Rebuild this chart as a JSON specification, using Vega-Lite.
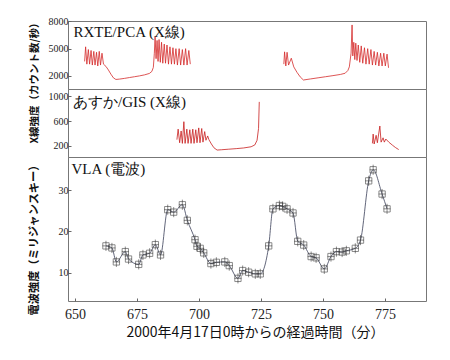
{
  "$schema": "https://vega.github.io/schema/vega-lite/v6.json",
  "padding": {"left": 27, "top": 15, "right": 5, "bottom": 5},
  "background": "white",
  "spacing": 0,
  "bounds": "flush",
  "config": {
    "view": {"stroke": "#777", "strokeWidth": 1},
    "concat": {"spacing": 0},
    "axis": {"labelFont": "Liberation Serif", "labelColor": "#222", "tickColor": "#666", "domain": false, "grid": false, "titleFont": "Noto Sans CJK JP", "titleColor": "#111", "tickSize": -3, "labelPadding": 3, "labelOverlap": false, "labelBound": false, "labelFlush": false, "format": "d"}
  },
  "datasets": {
    "pca": [
      {"t":653.9,"c":3600,"seg":1},{"t":654.3,"c":5200,"seg":1},{"t":654.8,"c":3300,"seg":1},{"t":655.4,"c":4900,"seg":1},{"t":655.9,"c":3300,"seg":1},{"t":656.5,"c":4800,"seg":1},{"t":657.0,"c":3200,"seg":1},{"t":657.6,"c":4700,"seg":1},{"t":658.1,"c":3200,"seg":1},{"t":658.7,"c":4600,"seg":1},{"t":659.2,"c":3100,"seg":1},{"t":659.8,"c":4700,"seg":1},{"t":660.3,"c":3200,"seg":1},{"t":660.9,"c":4500,"seg":1},{"t":661.5,"c":3300,"seg":1},
      {"t":662.5,"c":3050,"seg":1},{"t":663.5,"c":2650,"seg":1},{"t":664.5,"c":2200,"seg":1},{"t":665.5,"c":1800,"seg":1},{"t":666.5,"c":1620,"seg":1},{"t":668.0,"c":1660,"seg":1},{"t":670.0,"c":1740,"seg":1},{"t":672.0,"c":1830,"seg":1},{"t":674.0,"c":1920,"seg":1},{"t":676.0,"c":2010,"seg":1},{"t":678.0,"c":2120,"seg":1},{"t":680.0,"c":2280,"seg":1},{"t":681.0,"c":2500,"seg":1},{"t":681.6,"c":2950,"seg":1},{"t":682.0,"c":4500,"seg":1},
      {"t":682.3,"c":6300,"seg":1},{"t":682.7,"c":3900,"seg":1},{"t":683.1,"c":5900,"seg":1},{"t":683.5,"c":3600,"seg":1},{"t":683.9,"c":6000,"seg":1},{"t":684.4,"c":3500,"seg":1},{"t":684.9,"c":5700,"seg":1},{"t":685.4,"c":3400,"seg":1},{"t":686.0,"c":5500,"seg":1},{"t":686.5,"c":3400,"seg":1},{"t":687.1,"c":5400,"seg":1},{"t":687.7,"c":3300,"seg":1},{"t":688.3,"c":5200,"seg":1},{"t":688.9,"c":3300,"seg":1},{"t":689.5,"c":5100,"seg":1},{"t":690.1,"c":3300,"seg":1},{"t":690.7,"c":5000,"seg":1},{"t":691.3,"c":3200,"seg":1},{"t":692.0,"c":5000,"seg":1},{"t":692.6,"c":3200,"seg":1},{"t":693.3,"c":4900,"seg":1},{"t":693.9,"c":3200,"seg":1},{"t":694.6,"c":5000,"seg":1},{"t":695.2,"c":3200,"seg":1},{"t":695.9,"c":4800,"seg":1},{"t":696.5,"c":3300,"seg":1},
      {"t":734.2,"c":3300,"seg":2},{"t":734.5,"c":4650,"seg":2},{"t":735.0,"c":3100,"seg":2},{"t":735.5,"c":4600,"seg":2},{"t":736.1,"c":3200,"seg":2},{"t":737.2,"c":3950,"seg":2},{"t":738.2,"c":3000,"seg":2},{"t":739.5,"c":2400,"seg":2},{"t":740.8,"c":1900,"seg":2},{"t":742.1,"c":1560,"seg":2},{"t":745.0,"c":1680,"seg":2},{"t":748.0,"c":1800,"seg":2},{"t":751.0,"c":1920,"seg":2},{"t":754.0,"c":2040,"seg":2},{"t":757.0,"c":2170,"seg":2},{"t":758.9,"c":2300,"seg":2},{"t":760.0,"c":2600,"seg":2},{"t":760.6,"c":3000,"seg":2},{"t":761.3,"c":4500,"seg":2},
      {"t":761.7,"c":7600,"seg":2},{"t":762.0,"c":4200,"seg":2},{"t":762.4,"c":5700,"seg":2},{"t":762.8,"c":3800,"seg":2},{"t":763.2,"c":5600,"seg":2},{"t":763.7,"c":3700,"seg":2},{"t":764.2,"c":5400,"seg":2},{"t":764.8,"c":3500,"seg":2},{"t":765.4,"c":5300,"seg":2},{"t":766.0,"c":3400,"seg":2},{"t":766.7,"c":5100,"seg":2},{"t":767.3,"c":3300,"seg":2},{"t":768.0,"c":5000,"seg":2},{"t":768.6,"c":3300,"seg":2},{"t":769.3,"c":4900,"seg":2},{"t":769.9,"c":3200,"seg":2},{"t":770.6,"c":4700,"seg":2},{"t":771.2,"c":3200,"seg":2},{"t":771.9,"c":4600,"seg":2},{"t":772.5,"c":3100,"seg":2},{"t":773.2,"c":4500,"seg":2},{"t":773.8,"c":3100,"seg":2},{"t":774.5,"c":4500,"seg":2},{"t":775.1,"c":3100,"seg":2},{"t":775.8,"c":4400,"seg":2},{"t":776.4,"c":2900,"seg":2}
    ],
    "gis": [
      {"t":691.1,"c":300,"seg":1},{"t":691.6,"c":470,"seg":1},{"t":692.2,"c":250,"seg":1},{"t":692.8,"c":440,"seg":1},{"t":693.3,"c":240,"seg":1},{"t":693.9,"c":590,"seg":1},{"t":694.4,"c":240,"seg":1},{"t":695.1,"c":470,"seg":1},{"t":695.6,"c":240,"seg":1},{"t":696.3,"c":460,"seg":1},{"t":696.8,"c":240,"seg":1},{"t":697.5,"c":470,"seg":1},{"t":698.0,"c":240,"seg":1},{"t":698.7,"c":460,"seg":1},{"t":699.2,"c":250,"seg":1},{"t":699.9,"c":490,"seg":1},{"t":700.4,"c":250,"seg":1},{"t":701.1,"c":480,"seg":1},{"t":701.6,"c":260,"seg":1},{"t":702.3,"c":430,"seg":1},{"t":702.8,"c":290,"seg":1},{"t":703.5,"c":360,"seg":1},{"t":704.0,"c":300,"seg":1},{"t":705.0,"c":230,"seg":1},{"t":706.0,"c":170,"seg":1},{"t":707.3,"c":132,"seg":1},{"t":709.0,"c":137,"seg":1},{"t":712.0,"c":146,"seg":1},{"t":715.0,"c":155,"seg":1},{"t":718.0,"c":166,"seg":1},{"t":721.0,"c":185,"seg":1},{"t":722.5,"c":215,"seg":1},{"t":723.4,"c":290,"seg":1},{"t":724.0,"c":480,"seg":1},{"t":724.3,"c":910,"seg":1},
      {"t":769.9,"c":240,"seg":2},{"t":770.2,"c":390,"seg":2},{"t":770.6,"c":230,"seg":2},{"t":771.4,"c":370,"seg":2},{"t":771.9,"c":250,"seg":2},{"t":772.9,"c":520,"seg":2},{"t":773.4,"c":260,"seg":2},{"t":774.2,"c":330,"seg":2},{"t":774.7,"c":260,"seg":2},{"t":775.3,"c":310,"seg":2},{"t":776.5,"c":260,"seg":2},{"t":778.0,"c":210,"seg":2},{"t":779.3,"c":170,"seg":2},{"t":780.5,"c":140,"seg":2}
    ],
    "vla": [
      {"t":662.5,"f":16.5},{"t":664.9,"f":16.0},{"t":666.7,"f":12.6},{"t":670.3,"f":15.1},{"t":671.6,"f":13.3},{"t":675.7,"f":12.0},{"t":677.4,"f":14.3},{"t":680.1,"f":14.7},{"t":682.4,"f":16.8},{"t":684.5,"f":14.3},{"t":687.4,"f":25.3},{"t":689.8,"f":24.7},{"t":693.3,"f":26.5},{"t":695.3,"f":22.7},{"t":698.4,"f":18.0},{"t":699.2,"f":16.4},{"t":700.5,"f":15.9},{"t":701.9,"f":14.8},{"t":704.8,"f":12.2},{"t":707.0,"f":12.5},{"t":710.4,"f":12.6},{"t":712.2,"f":11.7},{"t":715.7,"f":8.6},{"t":717.6,"f":10.5},{"t":720.0,"f":10.1},{"t":722.7,"f":9.7},{"t":724.7,"f":9.7},{"t":728.1,"f":16.5},{"t":729.8,"f":25.5},{"t":732.4,"f":26.3},{"t":733.7,"f":26.1},{"t":735.5,"f":25.5},{"t":737.9,"f":24.5},{"t":739.8,"f":17.6},{"t":742.2,"f":16.7},{"t":745.2,"f":13.9},{"t":747.2,"f":13.6},{"t":750.5,"f":10.9},{"t":753.2,"f":13.9},{"t":755.4,"f":15.1},{"t":757.7,"f":15.0},{"t":759.4,"f":15.3},{"t":763.0,"f":15.9},{"t":765.1,"f":17.9},{"t":768.4,"f":32.3},{"t":770.2,"f":35.0},{"t":773.8,"f":29.1},{"t":775.8,"f":25.5}
    ]
  },
  "vconcat": [
    {
      "width": 358, "height": 68,
      "layer": [
        {
          "data": {"name": "pca"},
          "mark": {"type": "line", "color": "#d42a2a", "strokeWidth": 0.8},
          "encoding": {
            "x": {"field": "t", "type": "quantitative", "scale": {"domain": [647.2, 791.5], "nice": false}, "axis": null},
            "y": {"field": "c", "type": "quantitative", "scale": {"domain": [573, 8033], "nice": false, "zero": false}, "axis": {"values": [2000, 5000, 8000], "tickCount": 3, "title": null, "labelFontSize": 10, "labelOverlap": false}},
            "detail": {"field": "seg"}
          }
        },
        {
          "data": {"values": [{"t": 649.4, "c": 6830, "label": "RXTE/PCA (X線)"}]},
          "mark": {"type": "text", "font": "Liberation Serif", "fontSize": 15, "align": "left", "baseline": "middle", "color": "#111"},
          "encoding": {
            "x": {"field": "t", "type": "quantitative"},
            "y": {"field": "c", "type": "quantitative"},
            "text": {"field": "label"}
          }
        }
      ]
    },
    {
      "width": 358, "height": 68,
      "layer": [
        {
          "data": {"name": "gis"},
          "mark": {"type": "line", "color": "#c81e1e", "strokeWidth": 0.8},
          "encoding": {
            "x": {"field": "t", "type": "quantitative", "scale": {"domain": [647.2, 791.5], "nice": false}, "axis": null},
            "y": {"field": "c", "type": "quantitative", "scale": {"domain": [20, 1118], "nice": false, "zero": false}, "axis": {"values": [200, 600, 1000], "tickCount": 3, "title": "X線強度（カウント数/秒）", "titleFontSize": 10.5, "titleFontWeight": "bold", "titleX": -29, "titleY": -9, "labelFontSize": 10, "labelOverlap": false}},
            "detail": {"field": "seg"}
          }
        },
        {
          "data": {"values": [{"t": 649.2, "c": 908, "label": "あすか/GIS (X線)"}]},
          "mark": {"type": "text", "font": "Liberation Serif", "fontSize": 15, "align": "left", "baseline": "middle", "color": "#111"},
          "encoding": {
            "x": {"field": "t", "type": "quantitative"},
            "y": {"field": "c", "type": "quantitative"},
            "text": {"field": "label"}
          }
        }
      ]
    },
    {
      "width": 358, "height": 144,
      "layer": [
        {
          "data": {"name": "vla"},
          "mark": {"type": "line", "color": "#3a3f58", "strokeWidth": 0.8, "interpolate": "monotone"},
          "encoding": {
            "x": {"field": "t", "type": "quantitative", "scale": {"domain": [647.2, 791.5], "nice": false}, "axis": {"values": [650, 675, 700, 725, 750, 775], "labelFontSize": 14, "labelPadding": 9, "title": "2000年4月17日0時からの経過時間（分）", "titleFontSize": 14, "titleFontWeight": "normal", "titlePadding": 4, "titleX": 187}},
            "y": {"field": "f", "type": "quantitative", "scale": {"domain": [3.1, 38.1], "nice": false, "zero": false}, "axis": {"values": [10, 20, 30], "tickCount": 3, "title": "電波強度（ミリジャンスキー）", "titleFontSize": 11.2, "titleFontWeight": "bold", "titleX": -29, "titleY": 80, "labelFontSize": 10, "labelOverlap": false}}
          }
        },
        {
          "data": {"name": "vla"},
          "mark": {"type": "point", "shape": "square", "filled": false, "size": 40, "stroke": "#333", "strokeWidth": 0.8},
          "encoding": {
            "x": {"field": "t", "type": "quantitative"},
            "y": {"field": "f", "type": "quantitative"}
          }
        },
        {
          "data": {"name": "vla"},
          "mark": {"type": "point", "shape": "M0,-1.6V1.6M-1.1,0H1.1", "filled": false, "size": 40, "stroke": "#333", "strokeWidth": 0.8},
          "encoding": {
            "x": {"field": "t", "type": "quantitative"},
            "y": {"field": "f", "type": "quantitative"}
          }
        },
        {
          "data": {"values": [{"t": 648.6, "f": 35.1, "label": "VLA (電波)"}]},
          "mark": {"type": "text", "font": "Liberation Serif", "fontSize": 15, "align": "left", "baseline": "middle", "color": "#111"},
          "encoding": {
            "x": {"field": "t", "type": "quantitative"},
            "y": {"field": "f", "type": "quantitative"},
            "text": {"field": "label"}
          }
        }
      ]
    }
  ]
}
